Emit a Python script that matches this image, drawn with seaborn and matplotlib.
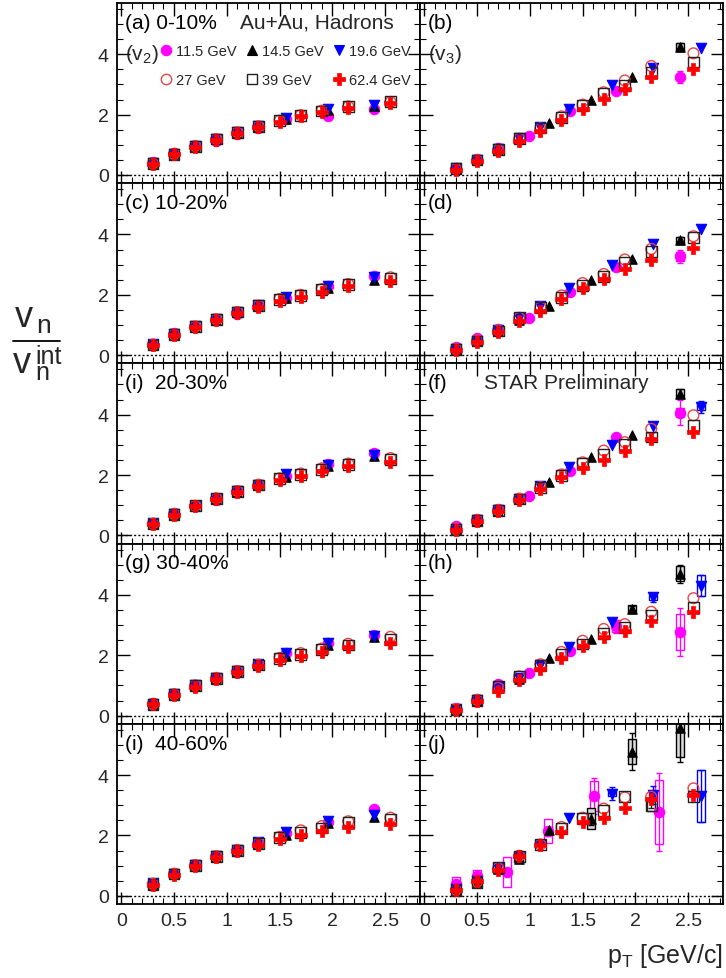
import matplotlib
matplotlib.use("Agg")
import matplotlib.pyplot as plt
import seaborn as sns
from matplotlib.lines import Line2D
from matplotlib.ticker import MultipleLocator, FuncFormatter

# ---------------- data ----------------
ENERGIES = ["11.5", "14.5", "19.6", "27", "39", "62.4"]
ENERGY_LABELS = ["11.5 GeV", "14.5 GeV", "19.6 GeV", "27 GeV", "39 GeV", "62.4 GeV"]
PANELS = ["a", "b", "c", "d", "e", "f", "g", "h", "i", "j"]
PANEL_TAGS = ["(a) 0-10%", "(b)", "(c) 10-20%", "(d)", "(i)  20-30%", "(f)",
              "(g) 30-40%", "(h)", "(i)  40-60%", "(j)"]
X_TICKS = [0, 0.5, 1, 1.5, 2, 2.5]
Y_TICKS = [0, 2, 4]

# pT bin centres
PT_HI = [0.3, 0.5, 0.7, 0.9, 1.1, 1.3, 1.5, 1.7, 1.9, 2.15, 2.55]
V2_PT_LO = [0.3, 0.5, 0.7, 0.9, 1.1, 1.3, 1.56, 1.96, 2.39]
V3_PT_115 = [0.3, 0.5, 0.7, 0.99, 1.38, 1.82, 2.42]
V3_PT_145 = [0.3, 0.5, 0.7, 0.9, 1.18, 1.58, 1.97, 2.42]
V3_PT_196 = [0.3, 0.5, 0.7, 0.9, 1.1, 1.37, 1.78, 2.17, 2.62]
J_PT_115 = [0.3, 0.5, 0.78, 1.17, 1.61, 2.22]

# v2 / v2int  (left column)
a_115 = [0.42, 0.72, 0.97, 1.14, 1.36, 1.56, 1.86, 1.94, 2.17]
a_145 = [0.40, 0.70, 0.96, 1.18, 1.40, 1.60, 1.85, 2.15, 2.28]
a_196 = [0.41, 0.71, 0.97, 1.19, 1.41, 1.61, 1.89, 2.17, 2.32]
a_27 = [0.38, 0.70, 0.96, 1.19, 1.41, 1.61, 1.80, 1.98, 2.13, 2.27, 2.42]
a_39 = [0.37, 0.69, 0.95, 1.19, 1.41, 1.61, 1.80, 1.97, 2.12, 2.26, 2.44]
a_624 = [0.37, 0.69, 0.94, 1.17, 1.39, 1.58, 1.76, 1.94, 2.08, 2.22, 2.37]

c_115 = [0.38, 0.72, 0.94, 1.15, 1.38, 1.62, 1.90, 2.30, 2.61]
c_145 = [0.36, 0.70, 0.95, 1.18, 1.42, 1.64, 1.88, 2.22, 2.50]
c_196 = [0.37, 0.70, 0.96, 1.20, 1.43, 1.65, 1.94, 2.30, 2.58]
c_27 = [0.35, 0.69, 0.95, 1.19, 1.43, 1.64, 1.86, 2.00, 2.19, 2.36, 2.58]
c_39 = [0.34, 0.68, 0.94, 1.19, 1.43, 1.64, 1.85, 1.99, 2.17, 2.33, 2.53]
c_624 = [0.33, 0.67, 0.92, 1.17, 1.41, 1.61, 1.81, 1.94, 2.11, 2.28, 2.47]

e_115 = [0.42, 0.73, 0.97, 1.18, 1.43, 1.66, 1.98, 2.38, 2.73]
e_145 = [0.39, 0.71, 0.97, 1.21, 1.45, 1.67, 1.95, 2.30, 2.62]
e_196 = [0.40, 0.71, 0.98, 1.22, 1.46, 1.68, 2.03, 2.33, 2.68]
e_27 = [0.39, 0.71, 0.98, 1.23, 1.47, 1.68, 1.89, 2.05, 2.22, 2.38, 2.56]
e_39 = [0.38, 0.70, 0.98, 1.22, 1.46, 1.67, 1.88, 2.02, 2.19, 2.35, 2.52]
e_624 = [0.37, 0.68, 0.96, 1.20, 1.44, 1.64, 1.84, 1.98, 2.14, 2.29, 2.44]

g_115 = [0.42, 0.72, 1.00, 1.22, 1.45, 1.67, 2.06, 2.42, 2.66]
g_145 = [0.39, 0.70, 0.99, 1.24, 1.47, 1.69, 1.98, 2.33, 2.60]
g_196 = [0.40, 0.71, 1.00, 1.25, 1.48, 1.70, 2.06, 2.39, 2.64]
g_27 = [0.39, 0.71, 1.00, 1.25, 1.48, 1.69, 1.91, 2.07, 2.22, 2.38, 2.61]
g_39 = [0.38, 0.70, 0.99, 1.24, 1.47, 1.68, 1.89, 2.03, 2.18, 2.34, 2.52]
g_624 = [0.37, 0.68, 0.96, 1.20, 1.44, 1.64, 1.84, 1.98, 2.12, 2.26, 2.40]

i_115 = [0.42, 0.74, 1.03, 1.30, 1.52, 1.74, 2.07, 2.44, 2.87]
i_145 = [0.40, 0.72, 1.02, 1.30, 1.51, 1.75, 2.03, 2.40, 2.60]
i_196 = [0.41, 0.73, 1.03, 1.31, 1.53, 1.77, 2.11, 2.47, 2.67]
i_27 = [0.40, 0.73, 1.02, 1.31, 1.52, 1.74, 1.95, 2.17, 2.31, 2.47, 2.59]
i_39 = [0.38, 0.72, 1.01, 1.30, 1.51, 1.73, 1.93, 2.10, 2.25, 2.42, 2.52]
i_624 = [0.37, 0.70, 0.98, 1.28, 1.47, 1.69, 1.89, 2.03, 2.14, 2.28, 2.39]

# v3 / v3int  (right column)
b_115 = [0.24, 0.52, 0.88, 1.30, 2.13, 2.78, 3.24]
b_145 = [0.20, 0.48, 0.83, 1.18, 1.72, 2.50, 3.26, 4.24]
b_196 = [0.22, 0.50, 0.85, 1.22, 1.60, 2.19, 2.97, 3.56, 4.19]
b_27 = [0.20, 0.49, 0.83, 1.20, 1.54, 1.94, 2.33, 2.74, 3.13, 3.61, 4.03]
b_39 = [0.22, 0.50, 0.84, 1.22, 1.56, 1.91, 2.30, 2.69, 2.97, 3.39, 3.74]
b_624 = [0.17, 0.47, 0.81, 1.13, 1.47, 1.83, 2.19, 2.53, 2.86, 3.26, 3.52]

d_115 = [0.27, 0.56, 0.86, 1.24, 2.11, 2.92, 3.28]
d_145 = [0.20, 0.46, 0.80, 1.16, 1.64, 2.50, 3.20, 3.80]
d_196 = [0.22, 0.48, 0.82, 1.22, 1.62, 2.22, 3.00, 3.67, 4.17]
d_27 = [0.21, 0.49, 0.82, 1.24, 1.58, 1.98, 2.39, 2.69, 3.17, 3.52, 3.94]
d_39 = [0.20, 0.47, 0.80, 1.26, 1.58, 1.92, 2.30, 2.61, 3.08, 3.44, 3.89]
d_624 = [0.17, 0.44, 0.78, 1.14, 1.48, 1.86, 2.22, 2.52, 2.86, 3.17, 3.56]

f_115 = [0.30, 0.55, 0.86, 1.29, 2.14, 3.26, 4.07]
f_145 = [0.20, 0.49, 0.82, 1.20, 1.76, 2.61, 3.31, 4.70]
f_196 = [0.22, 0.50, 0.84, 1.22, 1.64, 2.26, 2.98, 3.64, 4.26]
f_27 = [0.22, 0.51, 0.84, 1.22, 1.60, 2.02, 2.42, 2.81, 3.09, 3.53, 3.98]
f_39 = [0.20, 0.50, 0.83, 1.21, 1.59, 1.98, 2.37, 2.67, 3.00, 3.26, 3.64]
f_624 = [0.18, 0.48, 0.81, 1.18, 1.53, 1.92, 2.22, 2.51, 2.78, 3.18, 3.42]

h_115 = [0.24, 0.55, 1.05, 1.42, 2.14, 2.96, 2.78]
h_145 = [0.20, 0.49, 0.90, 1.22, 1.92, 2.53, 3.53, 4.70]
h_196 = [0.22, 0.51, 0.95, 1.26, 1.68, 2.26, 3.11, 3.92, 4.31]
h_27 = [0.21, 0.52, 0.92, 1.30, 1.70, 2.11, 2.48, 2.87, 3.03, 3.44, 3.89]
h_39 = [0.19, 0.50, 0.98, 1.29, 1.67, 2.03, 2.37, 2.73, 2.92, 3.33, 3.59]
h_624 = [0.17, 0.48, 0.81, 1.18, 1.56, 1.92, 2.29, 2.62, 2.81, 3.14, 3.42]

j_115 = [0.39, 0.67, 0.78, 2.14, 3.30, 2.78]
j_145 = [0.20, 0.46, 0.90, 1.22, 2.17, 2.56, 4.78, 5.55]
j_196 = [0.22, 0.50, 0.92, 1.30, 1.68, 2.58, 3.39, 3.33, 3.31]
j_27 = [0.20, 0.47, 0.92, 1.33, 1.70, 2.28, 2.59, 2.89, 3.26, 3.28, 3.56]
j_39 = [0.17, 0.44, 0.94, 1.31, 1.69, 2.22, 2.56, 2.83, 3.28, 3.00, 3.28]
j_624 = [0.20, 0.48, 0.87, 1.33, 1.67, 2.11, 2.44, 2.59, 2.92, 3.22, 3.33]

# notable uncertainties: (panel, energy, point index, stat error, sys half-height)
UNCERTAINTIES = [
    ("b", "11.5", 6, 0.20, 0.10), ("b", "14.5", 7, 0.12, 0.12),
    ("d", "11.5", 6, 0.22, 0.15), ("d", "14.5", 7, 0.12, 0.10),
    ("f", "11.5", 6, 0.40, 0.15), ("f", "14.5", 7, 0.15, 0.15), ("f", "19.6", 8, 0.20, 0.10),
    ("h", "11.5", 5, 0.22, 0.20), ("h", "11.5", 6, 0.80, 0.60), ("h", "14.5", 6, 0.10, 0.12),
    ("h", "14.5", 7, 0.30, 0.25), ("h", "19.6", 7, 0.15, 0.08), ("h", "19.6", 8, 0.35, 0.35),
    ("j", "11.5", 0, 0.10, 0.25), ("j", "11.5", 1, 0.08, 0.20), ("j", "11.5", 2, 0.10, 0.50),
    ("j", "11.5", 3, 0.15, 0.40), ("j", "11.5", 4, 0.60, 0.50), ("j", "11.5", 5, 1.30, 1.05),
    ("j", "14.5", 3, 0.10, 0.10), ("j", "14.5", 5, 0.20, 0.35), ("j", "14.5", 6, 0.60, 0.40),
    ("j", "14.5", 7, 1.10, 0.95), ("j", "19.6", 6, 0.20, 0.08), ("j", "19.6", 7, 0.30, 0.12),
    ("j", "19.6", 8, 0.86, 0.86), ("j", "39", 9, 0.10, 0.20),
]

VALUES = {
    "a": [a_115, a_145, a_196, a_27, a_39, a_624],
    "b": [b_115, b_145, b_196, b_27, b_39, b_624],
    "c": [c_115, c_145, c_196, c_27, c_39, c_624],
    "d": [d_115, d_145, d_196, d_27, d_39, d_624],
    "e": [e_115, e_145, e_196, e_27, e_39, e_624],
    "f": [f_115, f_145, f_196, f_27, f_39, f_624],
    "g": [g_115, g_145, g_196, g_27, g_39, g_624],
    "h": [h_115, h_145, h_196, h_27, h_39, h_624],
    "i": [i_115, i_145, i_196, i_27, i_39, i_624],
    "j": [j_115, j_145, j_196, j_27, j_39, j_624],
}


def series_x(panel, energy):
    if energy in ("27", "39", "62.4"):
        return PT_HI
    if panel in ("a", "c", "e", "g", "i"):
        return V2_PT_LO
    if panel == "j" and energy == "11.5":
        return J_PT_115
    return {"11.5": V3_PT_115, "14.5": V3_PT_145, "19.6": V3_PT_196}[energy]


STYLE = {
    "11.5": dict(marker="o", fc="#ff00ff", ec="#ff00ff", s=56, lw=0.8),
    "14.5": dict(marker="^", fc="black", ec="black", s=46, lw=0.8),
    "19.6": dict(marker="v", fc="#0000ff", ec="#0000ff", s=56, lw=0.8),
    "27": dict(marker="o", fc="none", ec="#e84545", s=60, lw=1.0),
    "39": dict(marker="s", fc="none", ec="#222222", s=60, lw=1.0),
    "62.4": dict(marker="P", fc="#ff0000", ec="#ff0000", s=70, lw=0.5),
}

# ---------------- style ----------------
sns.set_theme(style="ticks")
plt.rcParams["font.family"] = ["Liberation Sans", "DejaVu Sans"]
plt.rcParams["mathtext.fontset"] = "custom"
plt.rcParams["mathtext.rm"] = "Liberation Sans"
plt.rcParams["mathtext.it"] = "Liberation Sans"
plt.rcParams["mathtext.sf"] = "Liberation Sans"
plt.rcParams["mathtext.bf"] = "Liberation Sans:bold"

fig, axes = plt.subplots(
    5, 2, figsize=(7.26, 9.79), dpi=100, sharex=True, sharey=True,
    gridspec_kw=dict(left=0.1612, right=0.9959, top=0.996, bottom=0.0756,
                     wspace=0, hspace=0),
)

unc_lookup = {}
for p, en, idx, st, sy in UNCERTAINTIES:
    unc_lookup.setdefault((p, en), []).append((idx, st, sy))

fmt = FuncFormatter(lambda v, pos: f"{v:g}")

for k, (panel, ax) in enumerate(zip(PANELS, axes.flat)):
    ax.set_facecolor("white")
    ax.axhline(0, color="black", ls=(0, (1.5, 1.5)), lw=1.0, zorder=1)
    for ei, (en, ys) in enumerate(zip(ENERGIES, VALUES[panel])):
        xs = series_x(panel, en)
        st = STYLE[en]
        for idx, stat, sys_ in unc_lookup.get((panel, en), []):
            box_fc = "#d8d8d8" if en in ("14.5",) else "none"
            ax.bar([xs[idx]], [2 * sys_], bottom=[ys[idx] - sys_], width=0.075,
                   facecolor=box_fc, edgecolor=st["ec"], linewidth=1.0, zorder=2)
            ax.errorbar([xs[idx]], [ys[idx]], yerr=[stat], fmt="none",
                        ecolor=st["ec"], elinewidth=1.0, capsize=2.5, zorder=2)
        sns.scatterplot(x=xs, y=ys, ax=ax, marker=st["marker"], s=st["s"],
                        color=st["ec"], facecolor=st["fc"], edgecolor=st["ec"],
                        linewidth=st["lw"], legend=False, zorder=3 + ei, clip_on=True)

    ax.set_xlim(-0.04, 2.83)
    ax.set_ylim(-0.27, 5.7)
    ax.set_xticks(X_TICKS)
    ax.set_yticks(Y_TICKS)
    ax.xaxis.set_minor_locator(MultipleLocator(0.1))
    ax.yaxis.set_minor_locator(MultipleLocator(0.5))
    ax.xaxis.set_major_formatter(fmt)
    ax.yaxis.set_major_formatter(fmt)
    ax.tick_params(which="both", direction="in", top=True, right=True,
                   bottom=True, left=True, color="black", labelsize=14)
    ax.tick_params(which="major", length=9, width=1.0, pad=6)
    ax.tick_params(which="minor", length=4.5, width=0.8)
    for sp in ax.spines.values():
        sp.set_linewidth(1.3)
        sp.set_color("black")
    ax.set_xlabel("")
    ax.set_ylabel("")
    ax.text(0.026, 0.945, PANEL_TAGS[k], transform=ax.transAxes, ha="left",
            va="top", fontsize=15, color="black")

# extra texts
ax_a, ax_b = axes[0, 0], axes[0, 1]
ax_a.text(0.405, 0.945, "Au+Au, Hadrons", transform=ax_a.transAxes, ha="left",
          va="top", fontsize=15)
ax_a.text(0.026, 0.72, r"(v$_\mathregular{2}$)", transform=ax_a.transAxes,
          ha="left", va="center", fontsize=15)
ax_b.text(0.026, 0.72, r"(v$_\mathregular{3}$)", transform=ax_b.transAxes,
          ha="left", va="center", fontsize=15)
axes[2, 1].text(0.21, 0.945, "STAR Preliminary", transform=axes[2, 1].transAxes,
                ha="left", va="top", fontsize=15)

# legend
handles = []
for en in ENERGIES:
    st = STYLE[en]
    handles.append(Line2D([], [], ls="none", marker=st["marker"],
                          markersize=7.5 if en != "62.4" else 8.5,
                          markerfacecolor=st["fc"], markeredgecolor=st["ec"],
                          markeredgewidth=st["lw"]))
order = [0, 3, 1, 4, 2, 5]
leg = ax_a.legend([handles[i] for i in order], [ENERGY_LABELS[i] for i in order],
                  ncol=3, loc="upper left", bbox_to_anchor=(0.137, 0.77),
                  frameon=False, fontsize=10.5, handlelength=1.0, handletextpad=0.2,
                  columnspacing=0.55, labelspacing=1.0, borderpad=0, borderaxespad=0)
leg.set_zorder(20)

# y label as a fraction  v_n / v_n^int
W, H = 726.0, 979.0
fig.text(15 / W, 1 - 327 / H, "v", ha="left", va="baseline", fontsize=26)
fig.text(36 / W, 1 - 333 / H, "n", ha="left", va="baseline", fontsize=19)
fig.add_artist(Line2D([13 / W, 60 / W], [1 - 342 / H, 1 - 342 / H],
                      transform=fig.transFigure, color="black", lw=1.3))
fig.text(13 / W, 1 - 373 / H, "v", ha="left", va="baseline", fontsize=26)
fig.text(35 / W, 1 - 380 / H, "int\nn", ha="left", va="baseline", fontsize=18,
         linespacing=0.56)

fig.text(0.996, 0.016, r"p$_\mathregular{T}$ [GeV/c]", ha="right", va="baseline",
         fontsize=18)

fig.savefig("out.png", dpi=100, facecolor="white")
